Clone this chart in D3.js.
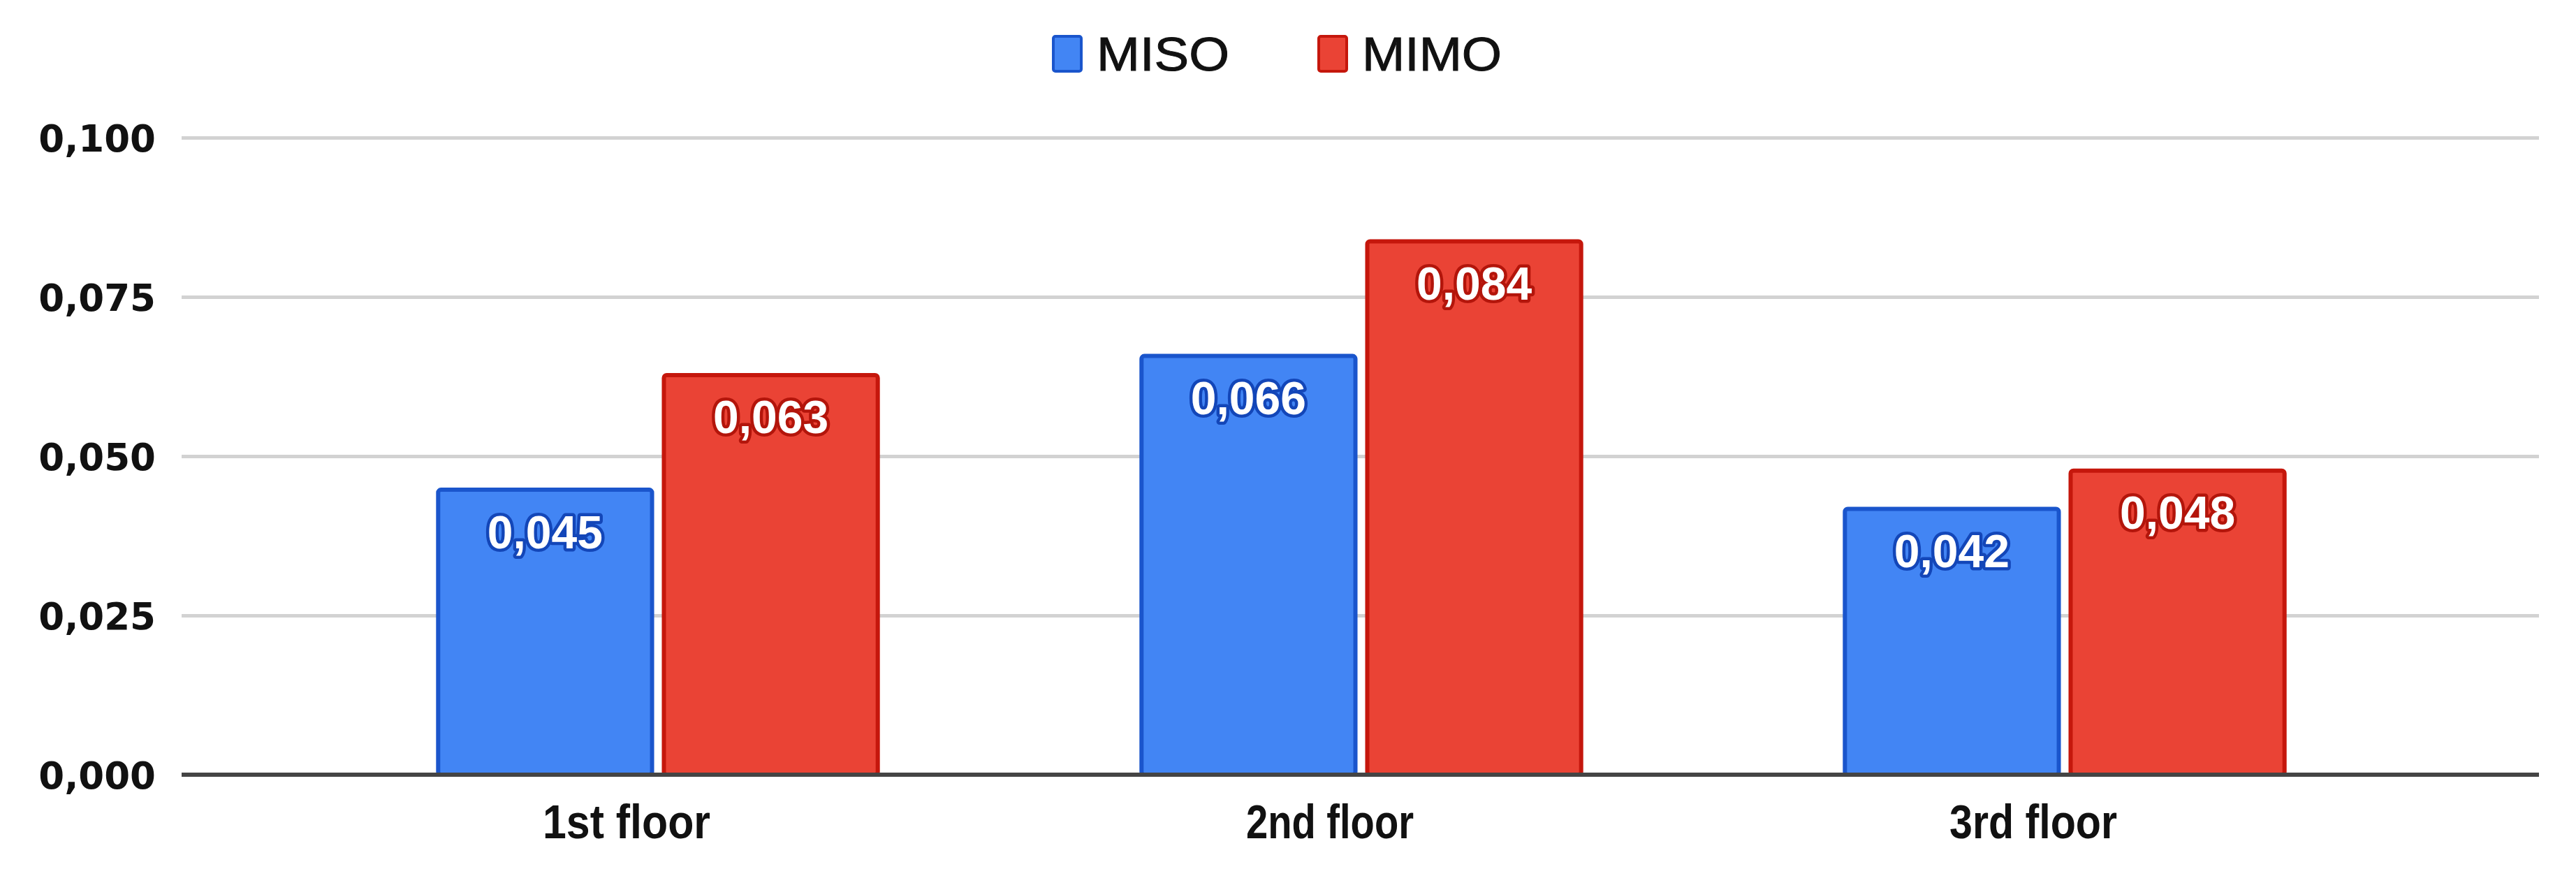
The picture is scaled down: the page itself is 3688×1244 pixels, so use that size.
<!DOCTYPE html>
<html>
<head>
<meta charset="utf-8">
<script src="https://cdn.jsdelivr.net/npm/d3@7"></script>
<style>
  html, body { margin: 0; padding: 0; background: #ffffff; }
  svg { display: block; }
</style>
</head>
<body>
<svg id="chart" width="3688" height="1244"></svg>
<script>
// ---- data ----
const categories = ["1st floor", "2nd floor", "3rd floor"];
const seriesNames = ["MISO", "MIMO"];
const misoValues = [0.045, 0.066, 0.042];
const mimoValues = [0.063, 0.084, 0.048];
const yTickValues = [0, 0.025, 0.05, 0.075, 0.1];
const yTickLabels = ["0,000", "0,025", "0,050", "0,075", "0,100"];

// ---- styles / layout ----
const W = 3688, H = 1244;
const plotLeft = 260, plotRight = 3635, plotTop = 197, plotBottom = 1109;
const fills = { MISO: "#4285f4", MIMO: "#ea4335" };
const strokes = { MISO: "#1a55cc", MIMO: "#c5170c" };
const haloes = { MISO: "#1346b8", MIMO: "#b3150b" };

const rows = categories.map((c, i) => ({ category: c, MISO: misoValues[i], MIMO: mimoValues[i] }));

const svg = d3.select("#chart");
svg.append("rect").attr("width", W).attr("height", H).attr("fill", "#fff");

const y = d3.scaleLinear().domain([0, 0.1]).range([plotBottom, plotTop]);
const x0 = d3.scaleBand().domain(categories).range([438.5, 3459.5]).paddingInner(0.37).paddingOuter(0.185);
const x1 = d3.scaleBand().domain(seriesNames).range([0, x0.bandwidth()]).paddingInner(0.037);

// gridlines + y labels
const yAxis = d3.axisLeft(y)
  .tickValues(yTickValues)
  .tickFormat((d, i) => yTickLabels[i])
  .tickSize(-(plotRight - plotLeft))
  .tickPadding(37);

const gy = svg.append("g").attr("transform", `translate(${plotLeft},0)`).call(yAxis);
gy.select(".domain").remove();
gy.selectAll(".tick line").attr("stroke", "#d2d2d2").attr("stroke-width", 5);
gy.selectAll(".tick text")
  .attr("fill", "#111")
  .attr("font-family", "DejaVu Sans")
  .attr("font-weight", "bold")
  .attr("font-size", 53)
  .attr("dy", "0.36em");

// bars
const groups = svg.append("g").selectAll("g")
  .data(rows).join("g")
  .attr("transform", d => `translate(${x0(d.category)},0)`);

groups.selectAll("rect")
  .data(d => seriesNames.map(s => ({ series: s, value: d[s] })))
  .join("rect")
  .attr("x", d => x1(d.series) + 2.5)
  .attr("y", d => y(d.value) + 2.5)
  .attr("width", x1.bandwidth() - 5)
  .attr("height", d => y(0) - y(d.value) - 2.5)
  .attr("rx", 4)
  .attr("fill", d => fills[d.series])
  .attr("stroke", d => strokes[d.series])
  .attr("stroke-width", 6);

// value labels
groups.selectAll("text.val")
  .data(d => seriesNames.map(s => ({ series: s, value: d[s] })))
  .join("text")
  .attr("class", "val")
  .attr("x", d => x1(d.series) + x1.bandwidth() / 2)
  .attr("y", d => y(d.value) + 86)
  .attr("text-anchor", "middle")
  .attr("font-family", "Liberation Sans")
  .attr("font-weight", "bold")
  .attr("font-size", 66)
  .attr("fill", "#fff")
  .attr("stroke", d => haloes[d.series])
  .attr("stroke-width", 9)
  .attr("stroke-linejoin", "round")
  .attr("paint-order", "stroke")
  .text(d => d3.format(".3f")(d.value).replace(".", ","));

// baseline
svg.append("line")
  .attr("x1", plotLeft).attr("x2", plotRight)
  .attr("y1", y(0)).attr("y2", y(0))
  .attr("stroke", "#444").attr("stroke-width", 6);

// x labels
svg.append("g").selectAll("text")
  .data(categories).join("text")
  .attr("x", d => x0(d) + x0.bandwidth() / 2 - 45)
  .attr("y", 1200)
  .attr("text-anchor", "middle")
  .attr("font-family", "Liberation Sans")
  .attr("font-weight", "bold")
  .attr("font-size", 68)
  .attr("fill", "#111")
  .attr("textLength", 240)
  .attr("lengthAdjust", "spacingAndGlyphs")
  .text(d => d);

// legend
const legendX = { MISO: 1508, MIMO: 1888 };
const lg = svg.append("g").selectAll("g").data(seriesNames).join("g")
  .attr("transform", d => `translate(${legendX[d]},52)`);
lg.append("rect")
  .attr("width", 40).attr("height", 50).attr("rx", 3)
  .attr("fill", d => fills[d]).attr("stroke", d => strokes[d]).attr("stroke-width", 4);
lg.append("text")
  .attr("x", 62).attr("y", 49)
  .attr("font-family", "Liberation Sans")
  .attr("font-size", 68)
  .attr("fill", "#111")
  .attr("stroke", "#111")
  .attr("stroke-width", 1)
  .attr("textLength", d => d === "MISO" ? 190 : 200)
  .attr("lengthAdjust", "spacingAndGlyphs")
  .text(d => d);
</script>
</body>
</html>
